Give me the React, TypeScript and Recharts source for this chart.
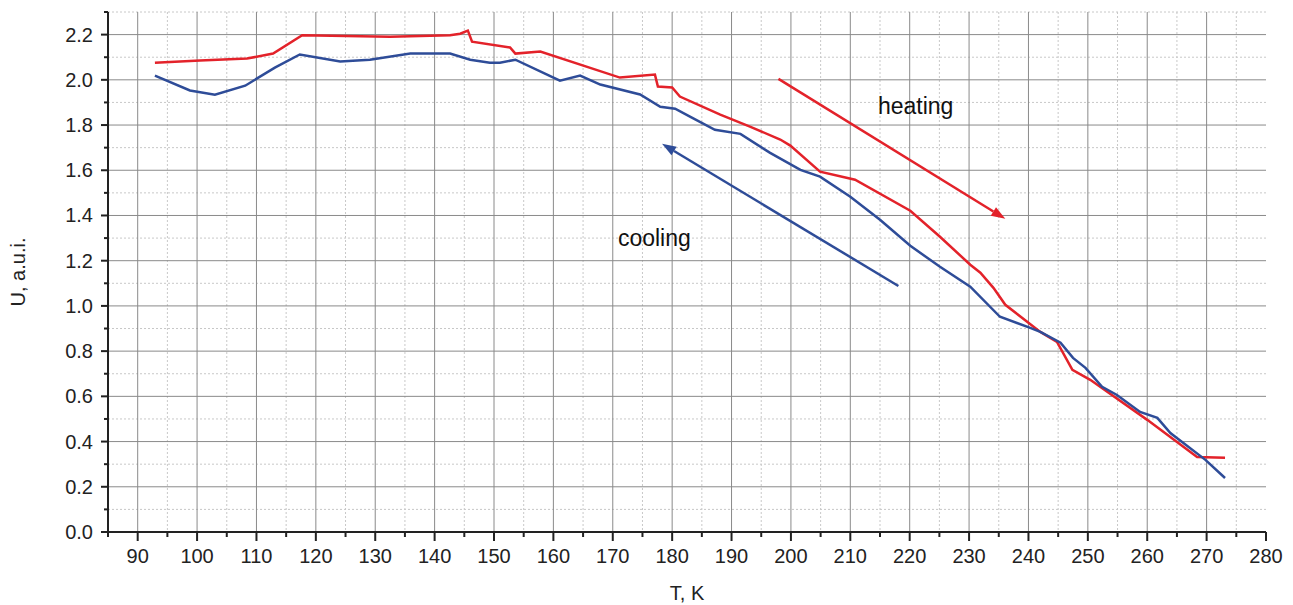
import React from "react";
import { LineChart, Line, XAxis, YAxis, CartesianGrid, ReferenceLine, ReferenceDot } from "recharts";

// heating run (red)
const heatingT = [92.9, 100.5, 108.4, 112.8, 117.7, 132.5, 142.6, 144.3, 145.6, 146.3, 152.7, 153.6, 157.8, 171.2, 177.1, 177.6, 180.0, 181.3, 188.1, 193.1, 198.2, 199.9, 204.9, 210.8, 220.1, 225.1, 230.2, 231.9, 234.1, 236.1, 242.0, 244.8, 247.4, 250.4, 260.0, 268.4, 273.1];
const heatingU = [2.076, 2.085, 2.094, 2.116, 2.197, 2.191, 2.197, 2.204, 2.218, 2.169, 2.143, 2.116, 2.125, 2.01, 2.023, 1.97, 1.966, 1.926, 1.846, 1.793, 1.736, 1.709, 1.594, 1.558, 1.421, 1.306, 1.182, 1.147, 1.08, 1.005, 0.885, 0.841, 0.717, 0.673, 0.496, 0.332, 0.328];

// cooling run (blue)
const coolingT = [92.9, 98.8, 103.0, 108.1, 113.1, 117.3, 124.1, 129.1, 135.9, 142.6, 146.0, 149.3, 151.0, 153.6, 161.1, 164.5, 167.9, 174.6, 178.0, 180.5, 183.0, 187.2, 191.5, 196.5, 201.6, 204.9, 210.0, 215.0, 220.1, 225.1, 230.2, 235.2, 240.3, 242.0, 245.4, 247.5, 249.6, 252.4, 254.9, 258.8, 261.7, 263.9, 269.8, 273.1];
const coolingU = [2.019, 1.953, 1.934, 1.974, 2.054, 2.112, 2.081, 2.089, 2.116, 2.116, 2.089, 2.076, 2.076, 2.089, 1.996, 2.019, 1.979, 1.935, 1.881, 1.872, 1.837, 1.779, 1.761, 1.677, 1.602, 1.572, 1.483, 1.381, 1.266, 1.173, 1.085, 0.952, 0.903, 0.885, 0.837, 0.77, 0.726, 0.642, 0.606, 0.531, 0.505, 0.438, 0.319, 0.239];

const xMajor = [90, 100, 110, 120, 130, 140, 150, 160, 170, 180, 190, 200, 210, 220, 230, 240, 250, 260, 270, 280];
const xMinor = [85, 95, 105, 115, 125, 135, 145, 155, 165, 175, 185, 195, 205, 215, 225, 235, 245, 255, 265, 275];
const yMajor = [0, 0.2, 0.4, 0.6, 0.8, 1.0, 1.2, 1.4, 1.6, 1.8, 2.0, 2.2];
const yMinor = [0.1, 0.3, 0.5, 0.7, 0.9, 1.1, 1.3, 1.5, 1.7, 1.9, 2.1, 2.3];

const heatingArrow = [{ x: 197.9, y: 2.004 }, { x: 236.1, y: 1.385 }];
const coolingArrow = [{ x: 218.1, y: 1.088 }, { x: 178.3, y: 1.717 }];

const heating = heatingT.map((T, i) => ({ T, U: heatingU[i] }));
const cooling = coolingT.map((T, i) => ({ T, U: coolingU[i] }));

const font = "'Liberation Sans', Arial, sans-serif";
const RED = "#e3222a";
const BLUE = "#2e4c98";

const isMajor = (v: number, list: number[]) => list.some((m) => Math.abs(m - v) < 1e-6);

const XTick = (props: any) => {
  const { x, y, payload } = props;
  const major = isMajor(payload.value, xMajor);
  return (
    <g>
      <line x1={x} x2={x} y1={y} y2={y + (major ? 9 : 5)} stroke="#222" strokeWidth={2} />
      {major && (
        <text x={x} y={y + 31} textAnchor="middle" fontSize={20} fill="#222" fontFamily={font}>
          {payload.value}
        </text>
      )}
    </g>
  );
};

const YTick = (props: any) => {
  const { x, y, payload } = props;
  const major = isMajor(payload.value, yMajor);
  return (
    <g>
      <line x1={x} x2={x - (major ? 7 : 4)} y1={y} y2={y} stroke="#222" strokeWidth={2} />
      {major && (
        <text x={x - 15} y={y + 7} textAnchor="end" fontSize={20} fill="#222" fontFamily={font}>
          {payload.value.toFixed(1)}
        </text>
      )}
    </g>
  );
};

const arrowShape = (color: string) => (p: any) => {
  const { x1, y1, x2, y2 } = p;
  const ang = Math.atan2(y2 - y1, x2 - x1);
  const len = 14;
  const half = 5;
  const bx = x2 - len * Math.cos(ang);
  const by = y2 - len * Math.sin(ang);
  const px = -Math.sin(ang) * half;
  const py = Math.cos(ang) * half;
  return (
    <g>
      <line x1={x1} y1={y1} x2={bx} y2={by} stroke={color} strokeWidth={2.5} />
      <polygon points={`${x2},${y2} ${bx + px},${by + py} ${bx - px},${by - py}`} fill={color} />
    </g>
  );
};

const textShape = (label: string) => (p: any) => (
  <text x={p.cx} y={p.cy + 8} textAnchor="middle" fontSize={23} fill="#111" fontFamily={font}>
    {label}
  </text>
);

export default function App() {
  return (
    <div style={{ position: "absolute", left: 0, top: 0, background: "#fff" }}>
      <LineChart width={1293} height={605} margin={{ top: 12, right: 27, bottom: 0, left: 0 }}>
        <CartesianGrid
          verticalValues={xMinor}
          horizontalValues={yMinor}
          stroke="#c8c8c8"
          strokeDasharray="2 2"
        />
        <CartesianGrid verticalValues={xMajor.filter((v) => v < 280)} horizontalValues={yMajor} stroke="#8a8a8a" />
        <XAxis
          dataKey="T"
          type="number"
          domain={[85, 280]}
          ticks={[...xMinor, ...xMajor].sort((a, b) => a - b)}
          interval={0}
          height={73}
          tickSize={0}
          tickMargin={0}
          tickLine={false}
          tick={<XTick />}
          axisLine={{ stroke: "#222", strokeWidth: 2 }}
          allowDuplicatedCategory={false}
          label={{ value: "T, K", position: "insideBottom", offset: 5, fontSize: 20, fill: "#222", fontFamily: font }}
        />
        <YAxis
          type="number"
          domain={[0, 2.3]}
          ticks={[...yMinor, ...yMajor].sort((a, b) => a - b)}
          interval={0}
          width={108}
          tickSize={0}
          tickMargin={0}
          tickLine={false}
          tick={<YTick />}
          axisLine={{ stroke: "#222", strokeWidth: 2 }}
          label={{
            value: "U, a.u.i.",
            angle: -90,
            position: "insideLeft",
            offset: 18,
            fontSize: 20,
            fill: "#222",
            fontFamily: font,
            style: { textAnchor: "middle" },
          }}
        />
        <Line data={heating} dataKey="U" type="linear" stroke={RED} strokeWidth={2.5} dot={false} isAnimationActive={false} />
        <Line data={cooling} dataKey="U" type="linear" stroke={BLUE} strokeWidth={2.5} dot={false} isAnimationActive={false} />
        <ReferenceLine segment={heatingArrow} shape={arrowShape(RED)} />
        <ReferenceLine segment={coolingArrow} shape={arrowShape(BLUE)} />
        <ReferenceDot x={221} y={1.885} r={0} shape={textShape("heating")} />
        <ReferenceDot x={177} y={1.301} r={0} shape={textShape("cooling")} />
      </LineChart>
    </div>
  );
}
